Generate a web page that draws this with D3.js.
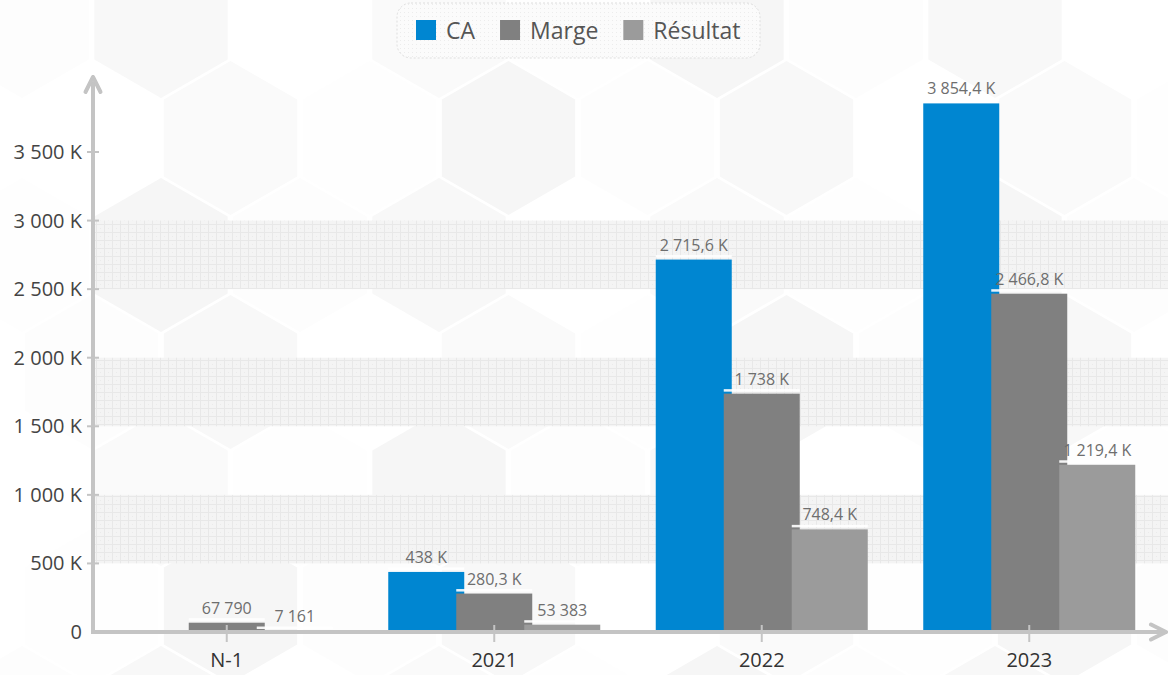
<!DOCTYPE html>
<html>
<head>
<meta charset="utf-8">
<script src="https://cdn.jsdelivr.net/npm/d3@7"></script>
<style>
  body { margin: 0; background: #fff; }
  svg { display: block; font-family: "Open Sans", sans-serif; }
</style>
</head>
<body>
<div id="chart"></div>
<script>
const categories = ["N-1", "2021", "2022", "2023"]
const series = ["CA", "Marge", "Résultat"]
// values in K€
const caValues = [null, 438, 2715.6, 3854.4]
const margeValues = [67.79, 280.3, 1738, 2466.8]
const resultatValues = [7.161, 53.383, 748.4, 1219.4]
const yTicks = [0, 500, 1000, 1500, 2000, 2500, 3000, 3500]
const bands = [[500, 1000], [1500, 2000], [2500, 3000]]

const width = 1168, height = 675
const colors = { CA: '#0086d1', Marge: '#808080', 'Résultat': '#9b9b9b' }
const axisColor = '#c4c4c4'

const data = series.map((s, i) => ({
    name: s,
    values: [caValues, margeValues, resultatValues][i]
}))

const fr = d3.formatLocale({ decimal: ",", thousands: " ", grouping: [3], currency: ["", ""] })
const fmtInt = fr.format(",.0f")
const fmtK = fr.format(",.1~f")
const labelFmt = v => v < 100 ? fmtInt(v * 1000) : fmtK(v) + " K"
const tickFmt = v => v === 0 ? "0" : fmtInt(v) + " K"

const svg = d3.select('#chart').append('svg')
    .attr('width', width)
    .attr('height', height)

const defs = svg.append('defs')

// grid pattern for the shaded bands
const grid = defs.append('pattern')
    .attr('id', 'grid')
    .attr('width', 8).attr('height', 8)
    .attr('patternUnits', 'userSpaceOnUse')
grid.append('rect').attr('width', 8).attr('height', 8).attr('fill', '#f4f4f4')
grid.append('path').attr('d', 'M0,0.5H8M0.5,0V8').attr('stroke', '#e8e8e8').attr('stroke-width', 1)
grid.append('rect').attr('x', 4).attr('y', 4).attr('width', 1).attr('height', 1).attr('fill', '#ebebeb')

const dots = defs.append('pattern')
    .attr('id', 'dots')
    .attr('width', 4).attr('height', 4)
    .attr('patternUnits', 'userSpaceOnUse')
dots.append('rect').attr('width', 4).attr('height', 4).attr('fill', '#fbfbfb')
dots.append('rect').attr('width', 1).attr('height', 1).attr('fill', '#ececec')

// background hexagons
const hexR = 77
const hexW = 139, hexH = 117
const hexFills = ['#f8f8f8', '#fdfdfd', '#f6f6f6', '#fefefe', '#fafafa', '#ffffff']
const hexPath = (cx, cy, r) => d3.range(6).map(k => {
    const a = Math.PI / 3 * k - Math.PI / 2
    return [cx + r * Math.cos(a), cy + r * Math.sin(a)]
})
const hexes = []
for (let row = 0; row < 7; row++) {
    for (let col = -1; col < 10; col++) {
        hexes.push({
            cx: 161 + col * hexW + (row % 2 ? hexW / 2 : 0),
            cy: 21 + row * hexH,
            fill: hexFills[(row * 4 + col * 5 + 12) % hexFills.length]
        })
    }
}
svg.append('g').selectAll('polygon')
    .data(hexes)
    .join('polygon')
    .attr('points', d => hexPath(d.cx, d.cy, hexR).join(' '))
    .attr('fill', d => d.fill)

const x = d3.scaleBand()
    .domain(categories)
    .range([93, 1163])
    .padding(0)

const sub = d3.scalePoint()
    .domain(series)
    .range([-106, 30])
const barW = 76

const y = d3.scaleLinear()
    .domain([0, 3500])
    .range([632, 152])

// shaded bands
svg.append('g').selectAll('rect')
    .data(bands)
    .join('rect')
    .attr('x', 95)
    .attr('width', width - 95)
    .attr('y', d => y(d[1]))
    .attr('height', d => y(d[0]) - y(d[1]))
    .attr('fill', 'url(#grid)')

// bars
const barsG = svg.append('g')
data.forEach(s => {
    barsG.append('g')
        .selectAll('rect')
        .data(s.values.map((v, i) => ({ cat: categories[i], v: v, name: s.name })).filter(d => d.v != null))
        .join('rect')
        .attr('x', d => x(d.cat) + x.bandwidth() / 2 + sub(d.name))
        .attr('width', barW)
        .attr('y', d => y(d.v))
        .attr('height', d => y(0) - y(d.v))
        .attr('fill', colors[s.name])
})

// labels
const labels = data.flatMap(s => s.values.map((v, i) => ({ cat: categories[i], v: v, name: s.name })).filter(d => d.v != null))
const labG = svg.append('g')
labG.selectAll('rect')
    .data(labels)
    .join('rect')
    .attr('x', d => x(d.cat) + x.bandwidth() / 2 + sub(d.name))
    .attr('width', barW)
    .attr('y', d => y(d.v) - 4.5)
    .attr('height', 2.5)
    .attr('fill', '#fff')
    .attr('fill-opacity', 0.9)
labG.selectAll('text')
    .data(labels)
    .join('text')
    .attr('x', d => x(d.cat) + x.bandwidth() / 2 + sub(d.name) + barW / 2)
    .attr('y', d => y(d.v) - 9)
    .attr('text-anchor', 'middle')
    .attr('font-size', 16)
    .attr('fill', '#6e6e6e')
    .text(d => labelFmt(d.v))

// y axis
const yAxis = svg.append('g')
yAxis.append('line')
    .attr('x1', 93).attr('x2', 93)
    .attr('y1', 634).attr('y2', 82)
    .attr('stroke', axisColor).attr('stroke-width', 4)
yAxis.append('path')
    .attr('d', 'M93,77L85.5,92M93,77L100.5,92')
    .attr('stroke', axisColor).attr('stroke-width', 4).attr('fill', 'none')
    .attr('stroke-linecap', 'round')
const yt = yAxis.selectAll('g.tick')
    .data(yTicks)
    .join('g')
    .attr('class', 'tick')
    .attr('transform', d => `translate(0,${y(d)})`)
yt.filter(d => d !== 0).append('line')
    .attr('x1', 87).attr('x2', 99)
    .attr('stroke', axisColor).attr('stroke-width', 2)
yt.append('text')
    .attr('x', 82)
    .attr('dy', '0.35em')
    .attr('text-anchor', 'end')
    .attr('font-size', 20)
    .attr('fill', '#444')
    .text(tickFmt)

// x axis
const xAxis = svg.append('g')
xAxis.append('line')
    .attr('x1', 91).attr('x2', 1162)
    .attr('y1', 632).attr('y2', 632)
    .attr('stroke', axisColor).attr('stroke-width', 4)
xAxis.append('path')
    .attr('d', 'M1166,632L1151,624.5M1166,632L1151,639.5')
    .attr('stroke', axisColor).attr('stroke-width', 4).attr('fill', 'none')
    .attr('stroke-linecap', 'round')
const xt = xAxis.selectAll('g.tick')
    .data(categories)
    .join('g')
    .attr('class', 'tick')
    .attr('transform', d => `translate(${x(d) + x.bandwidth() / 2},0)`)
xt.append('line')
    .attr('y1', 625).attr('y2', 642)
    .attr('stroke', axisColor).attr('stroke-width', 2)
xt.append('text')
    .attr('y', 667)
    .attr('text-anchor', 'middle')
    .attr('font-size', 20)
    .attr('fill', '#333')
    .text(d => d)

// legend
const legend = svg.append('g')
legend.append('rect')
    .attr('x', 397).attr('y', 3)
    .attr('width', 363).attr('height', 55)
    .attr('rx', 14)
    .attr('fill', 'url(#dots)')
    .attr('stroke', '#dedede')
    .attr('stroke-dasharray', '2,2')
let lx = 416
series.forEach(s => {
    legend.append('rect')
        .attr('x', lx).attr('y', 20)
        .attr('width', 20).attr('height', 20)
        .attr('fill', colors[s])
    const t = legend.append('text')
        .attr('x', lx + 30).attr('y', 39)
        .attr('font-size', 23)
        .attr('fill', '#555')
        .text(s)
    lx += 30 + t.node().getComputedTextLength() + 25
})
</script>
</body>
</html>
